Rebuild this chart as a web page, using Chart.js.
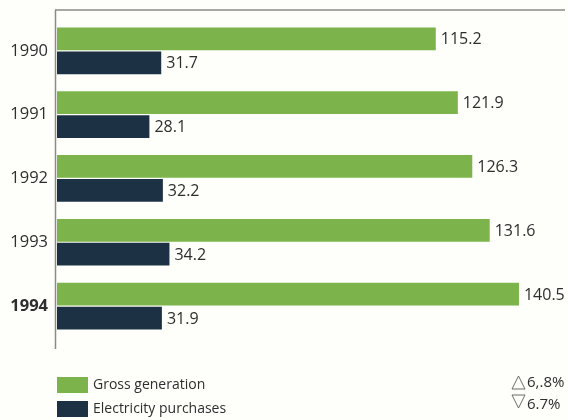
<!DOCTYPE html>
<html>
<head>
<meta charset="utf-8">
<script src="https://cdn.jsdelivr.net/npm/chart.js@4/dist/chart.umd.min.js"></script>
<style>
  html, body { margin: 0; padding: 0; background: #fefefb; }
  #wrap { width: 568px; height: 420px; position: relative; }
</style>
</head>
<body>
<div id="wrap"><canvas id="chartElec"></canvas></div>
<script>
// anos e valores
var years = ["1990", "1991", "1992", "1993", "1994"];
var grossGeneration = [115.2, 121.9, 126.3, 131.6, 140.5];
var electricityPurchases = [31.7, 28.1, 32.2, 34.2, 31.9];
var seriesNames = ["Gross generation", "Electricity purchases"];
var changeNotes = ["6,.8%", "6.7%"];

var green = "#7cb44b";
var navy = "#1c3244";
var textColor = "#2e2e2e";
var fontFamily = "'Open Sans', sans-serif";

// moldura: linha do topo e eixo vertical esticado
var framePlugin = {
    id: 'frame',
    beforeDatasetsDraw: function (chart) {
        var a = chart.chartArea;
        var c = chart.ctx;
        c.save();
        c.strokeStyle = "#8a8a86";
        c.lineWidth = 1.5;
        c.beginPath();
        c.moveTo(a.left - 2, a.top - 9);
        c.lineTo(a.right, a.top - 9);
        c.moveTo(a.left - 1.5, a.top - 9);
        c.lineTo(a.left - 1.5, a.bottom + 11);
        c.stroke();
        c.restore();
    }
};

// rotulos no fim das barras
var valueLabels = {
    id: 'valueLabels',
    afterDatasetsDraw: function (chart) {
        var c = chart.ctx;
        c.save();
        c.font = "16px " + fontFamily;
        c.fillStyle = textColor;
        c.textBaseline = "middle";
        chart.data.datasets.forEach(function (ds, i) {
            chart.getDatasetMeta(i).data.forEach(function (bar, j) {
                c.fillText(ds.data[j].toFixed(1), bar.x + 5, bar.y + 1);
            });
        });
        c.restore();
    }
};

// legenda e notas de variacao embaixo
var bottomLegend = {
    id: 'bottomLegend',
    afterDraw: function (chart) {
        var c = chart.ctx;
        var left = chart.chartArea.left;
        c.save();
        c.font = "14px " + fontFamily;
        c.textBaseline = "middle";
        chart.data.datasets.forEach(function (ds, i) {
            var y = 377 + i * 24;
            c.fillStyle = ds.backgroundColor;
            c.fillRect(left, y, 31, 16);
            c.fillStyle = textColor;
            c.fillText(ds.label, left + 36, y + 8);
        });
        // triangulos
        c.strokeStyle = "#6a6a6a";
        c.lineWidth = 1;
        c.beginPath();
        c.moveTo(518.5, 376); c.lineTo(525, 389); c.lineTo(512, 389); c.closePath();
        c.moveTo(512, 395); c.lineTo(525, 395); c.lineTo(518.5, 408); c.closePath();
        c.stroke();
        c.fillStyle = textColor;
        c.font = "15px " + fontFamily;
        c.fillText(changeNotes[0], 527, 383);
        c.fillText(changeNotes[1], 527, 405);
        c.restore();
    }
};

var ctx = document.getElementById("chartElec").getContext("2d");
new Chart(ctx, {
    type: 'bar',
    data: {
        labels: years,
        datasets: [
            {
                label: seriesNames[0],
                data: grossGeneration,
                backgroundColor: green,
                categoryPercentage: 0.75,
                barPercentage: 0.95
            },
            {
                label: seriesNames[1],
                data: electricityPurchases,
                backgroundColor: navy,
                categoryPercentage: 0.75,
                barPercentage: 0.95
            }
        ]
    },
    options: {
        indexAxis: 'y',
        responsive: true,
        maintainAspectRatio: false,
        animation: false,
        layout: { padding: { top: 15, right: 3, bottom: 82, left: 0 } },
        plugins: {
            legend: { display: false },
            tooltip: { enabled: false }
        },
        scales: {
            x: {
                display: false,
                min: 0,
                max: 154.5
            },
            y: {
                grid: { display: false, drawTicks: false },
                border: { display: false },
                afterFit: function (scale) { scale.width = 57; },
                ticks: {
                    padding: 9,
                    color: textColor,
                    font: function (c) {
                        return {
                            family: fontFamily,
                            size: 16.5,
                            weight: c.index === years.length - 1 ? 'bold' : 'normal'
                        };
                    }
                }
            }
        }
    },
    plugins: [framePlugin, valueLabels, bottomLegend]
});
</script>
</body>
</html>
